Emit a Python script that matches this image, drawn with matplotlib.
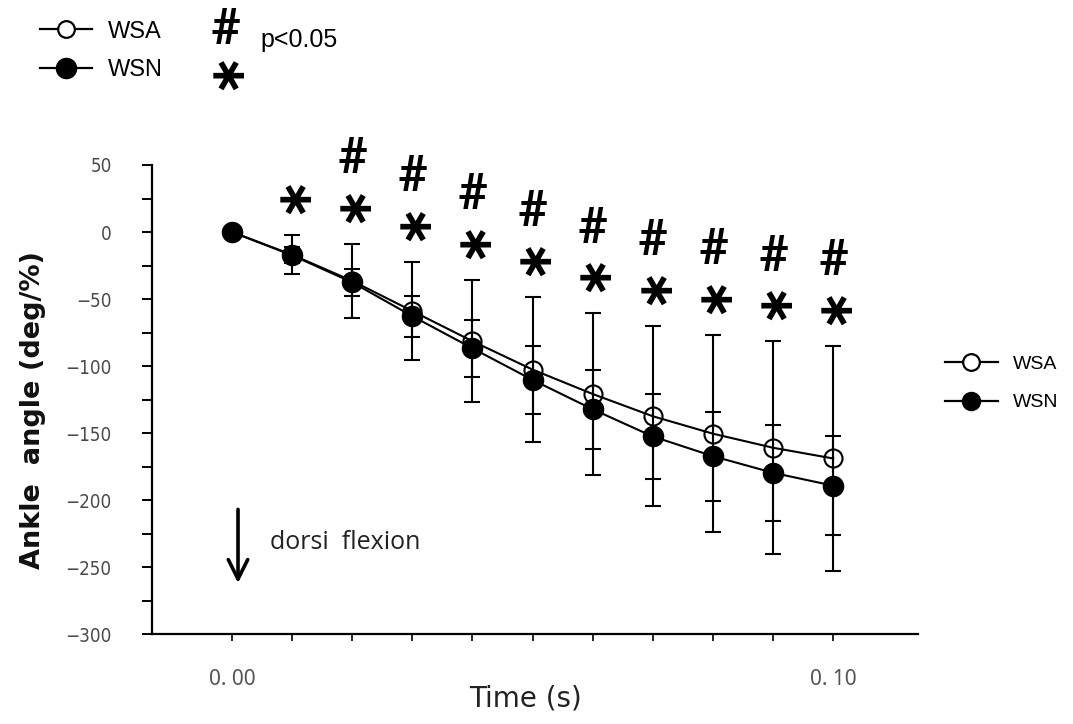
import matplotlib
matplotlib.use("Agg")
import matplotlib.pyplot as plt
from matplotlib.lines import Line2D
import numpy as np

# Time points (s) and group means / SDs of ankle angle (deg/%)
time = [0.00, 0.01, 0.02, 0.03, 0.04, 0.05, 0.06, 0.07, 0.08, 0.09, 0.10]
wsa_mean = [0, -17.0, -36.5, -59.0, -81.5, -102.7, -120.9, -137.5, -150.5, -161.0, -169.0]
wsa_sd = [0, 14.7, 27.4, 36.8, 45.5, 53.9, 60.1, 67.3, 73.5, 79.3, 84.0]
wsn_mean = [0, -17.4, -37.6, -62.8, -86.8, -110.4, -132.3, -152.6, -167.3, -179.7, -189.3]
wsn_sd = [0, 6.0, 10.3, 15.4, 21.2, 25.3, 29.3, 32.0, 33.3, 35.6, 36.7]

# Significance flags per time point
sig_star = [False, True, True, True, True, True, True, True, True, True, True]
sig_hash = [False, False, True, True, True, True, True, True, True, True, True]

y_ticks = [50, 0, -50, -100, -150, -200, -250, -300]
x_tick_labels = {0.00: "0. 00", 0.10: "0. 10"}

STAR_KW = dict(fontsize=35, fontweight="bold", family=["DejaVu Sans"],
               rotation=90)
HASH_KW = dict(fontsize=36, fontweight="bold", family=["Roboto", "DejaVu Sans"])

fig = plt.figure(figsize=(10.73, 7.24), dpi=100)
ax = fig.add_axes([0.1417, 0.1243, 0.7138, 0.6478])

ax.set_xlim(-0.0133, 0.1141)
ax.set_ylim(-300, 50)

lw = 1.5
# error bars first so the markers sit on top
ax.errorbar(time, wsa_mean, yerr=wsa_sd, fmt="none", ecolor="black",
            elinewidth=lw, capsize=6, capthick=lw, zorder=2)
ax.errorbar(time, wsn_mean, yerr=wsn_sd, fmt="none", ecolor="black",
            elinewidth=lw, capsize=6, capthick=lw, zorder=2)

ax.plot(time, wsa_mean, color="black", lw=lw, marker="o", ms=13,
        mfc="none", mec="black", mew=1.5, zorder=3)
ax.plot(time, wsn_mean, color="black", lw=lw, marker="o", ms=14.5,
        mfc="black", mec="black", zorder=4)

# significance symbols above the upper error bars
for t, m, s, st, hs in zip(time, wsa_mean, wsa_sd, sig_star, sig_hash):
    top = m + s
    if st:
        ax.text(t, top + 31, "\u2217", ha="center", va="center",
                clip_on=False, **STAR_KW)
    if hs:
        ax.text(t, top + 63, "#", ha="center", va="center",
                clip_on=False, **HASH_KW)

# dorsiflexion indicator
ax.annotate("", xy=(0.001, -262), xytext=(0.001, -207),
            arrowprops=dict(arrowstyle="->,head_length=0.7,head_width=0.35",
                            color="black", lw=2.6, mutation_scale=20,
                            shrinkA=0, shrinkB=0))
ax.text(0.0063, -232, "dorsi  flexion", ha="left", va="center", fontsize=18,
        family=["Open Sans", "DejaVu Sans"], color="#222222")

# axes styling
for side in ("top", "right"):
    ax.spines[side].set_visible(False)
for side in ("left", "bottom"):
    ax.spines[side].set_linewidth(1.6)

ax.set_yticks(y_ticks)
ax.set_yticks(np.arange(-300, 51, 25), minor=True)
ax.set_yticklabels([f"{v}".replace("-", "\u2212") for v in y_ticks],
                   family=["DejaVu Sans"], fontstretch="condensed",
                   fontsize=13.5, color="#4a4a4a")
ax.tick_params(axis="y", which="both", direction="out", length=7, width=1.4,
               pad=22)

ax.set_xticks(time)
ax.set_xticklabels([x_tick_labels.get(t, "") for t in time],
                   fontsize=15, color="#555555",
                   family=["Noto Sans", "DejaVu Sans"])
ax.tick_params(axis="x", direction="out", length=5, width=1.2, pad=20)

ax.set_ylabel("Ankle  angle (deg/%)", fontsize=19.5, fontweight="bold",
              family=["DejaVu Sans"], color="#111111")
ax.yaxis.set_label_coords(-0.138, 0.478)
ax.set_xlabel("Time (s)", fontsize=20, family=["DejaVu Sans"],
              color="#222222")
ax.xaxis.set_label_coords(0.488, -0.108)

# legend handles
def handles(ms_open, ms_fill):
    o = Line2D([], [], color="black", lw=1.6, marker="o", ms=ms_open,
               mfc="white", mec="black", mew=1.6)
    f = Line2D([], [], color="black", lw=1.6, marker="o", ms=ms_fill,
               mfc="black", mec="black")
    return [o, f]

fig.legend(handles(12, 13), ["WSA", "WSN"], loc="center left",
           bbox_to_anchor=(945 / 1073, 1 - 383.5 / 724), frameon=False,
           prop={"family": ["Liberation Sans", "DejaVu Sans"], "size": 14},
           handlelength=2.7, labelspacing=1.05, handletextpad=0.8,
           borderpad=0, borderaxespad=0)
fig.legend(handles(12, 14.5), ["WSA", "WSN"], loc="center left",
           bbox_to_anchor=(40 / 1073, 1 - 51 / 724), frameon=False,
           prop={"family": ["Liberation Sans", "DejaVu Sans"], "size": 17},
           handlelength=2.2, labelspacing=0.72, handletextpad=0.68,
           borderpad=0, borderaxespad=0)

# key for the significance symbols
fig.text(225 / 1073, 1 - 31 / 724, "#", ha="center", va="center", **HASH_KW)
fig.text(225 / 1073, 1 - 70 / 724, "\u2217", ha="center", va="center",
         **STAR_KW)
fig.text(260 / 1073, 1 - 40 / 724, "p<0.05", ha="left", va="center",
         fontsize=18, family=["Liberation Sans", "DejaVu Sans"])

fig.savefig("out.png", dpi=100)
